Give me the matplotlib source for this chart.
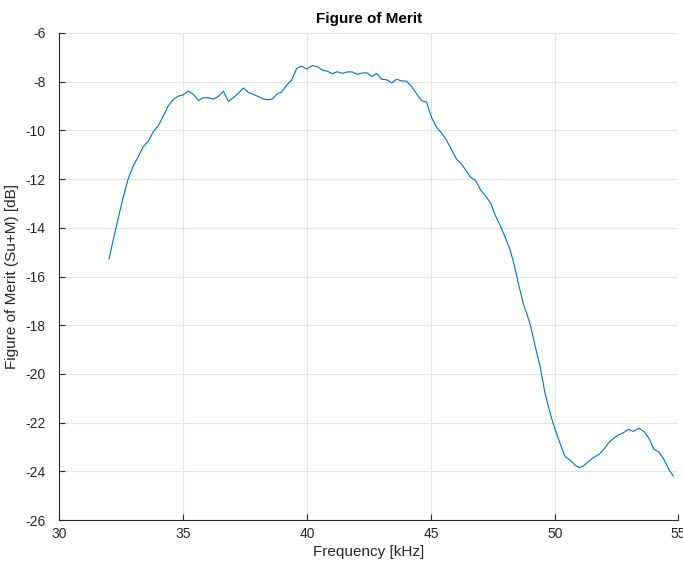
import numpy as np
import matplotlib
matplotlib.use("Agg")
import matplotlib.pyplot as plt

plt.rcParams['font.family'] = ['Liberation Sans', 'DejaVu Sans']
plt.rcParams['axes.unicode_minus'] = False

# Frecuencia [kHz] y figura de mérito [dB]
freq_khz = [
    32.00, 32.17, 32.37, 32.58, 32.78, 32.98, 33.18, 33.38, 33.59, 33.79,
    33.99, 34.19, 34.39, 34.60, 34.80, 34.98, 35.20, 35.40, 35.61, 35.81,
    36.01, 36.21, 36.41, 36.62, 36.82, 37.02, 37.22, 37.42, 37.63, 37.83,
    38.03, 38.23, 38.43, 38.60, 38.77, 38.97, 39.18, 39.38, 39.58, 39.78,
    39.98, 40.21, 40.41, 40.61, 40.82, 41.02, 41.22, 41.42, 41.62, 41.83,
    42.03, 42.23, 42.43, 42.61, 42.81, 43.01, 43.21, 43.42, 43.62, 43.82,
    44.02, 44.22, 44.43, 44.63, 44.83, 44.92, 45.05, 45.23, 45.44, 45.64,
    45.84, 46.04, 46.24, 46.45, 46.61, 46.81, 47.01, 47.21, 47.42, 47.59,
    47.79, 47.99, 48.20, 48.36, 48.53, 48.73, 49.00, 49.20, 49.41, 49.61,
    49.80, 49.99, 50.19, 50.42, 50.62, 50.82, 50.99, 51.16, 51.36, 51.56,
    51.80, 51.96, 52.16, 52.37, 52.57, 52.77, 52.97, 53.17, 53.40, 53.61,
    53.81, 54.01, 54.21, 54.41, 54.61, 54.79,
]
merit_db = [
    -15.28, -14.50, -13.61, -12.72, -11.97, -11.46, -11.08, -10.67, -10.44, -10.05,
    -9.81, -9.41, -9.00, -8.72, -8.59, -8.55, -8.38, -8.51, -8.77, -8.66,
    -8.66, -8.72, -8.61, -8.39, -8.81, -8.66, -8.48, -8.26, -8.44, -8.52,
    -8.61, -8.71, -8.74, -8.71, -8.52, -8.42, -8.14, -7.93, -7.45, -7.36,
    -7.48, -7.34, -7.38, -7.52, -7.57, -7.67, -7.59, -7.66, -7.60, -7.60,
    -7.70, -7.64, -7.64, -7.79, -7.66, -7.90, -7.92, -8.05, -7.90, -7.97,
    -7.98, -8.20, -8.51, -8.78, -8.84, -9.16, -9.52, -9.87, -10.12, -10.42,
    -10.80, -11.19, -11.38, -11.70, -11.93, -12.06, -12.45, -12.69, -12.99, -13.47,
    -13.89, -14.36, -14.91, -15.50, -16.28, -17.10, -17.92, -18.81, -19.70, -20.80,
    -21.55, -22.20, -22.78, -23.40, -23.54, -23.74, -23.85, -23.78, -23.60, -23.44,
    -23.30, -23.13, -22.85, -22.65, -22.51, -22.42, -22.28, -22.36, -22.23, -22.37,
    -22.65, -23.10, -23.21, -23.51, -23.92, -24.19,
]

x_ticks = [30, 35, 40, 45, 50, 55]
y_ticks = [-26, -24, -22, -20, -18, -16, -14, -12, -10, -8, -6]

fig = plt.figure(figsize=(6.83, 5.62), dpi=100)
ax = fig.add_axes([0.0871, 0.0747, 0.9063, 0.8666])

ax.plot(freq_khz, merit_db, color='#0072BD', linewidth=0.8)

ax.set_xlim(30, 55)
ax.set_ylim(-26, -6)
ax.set_xticks(x_ticks)
ax.set_yticks(y_ticks)

# estilo tipo MATLAB: sin caja, rejilla gris clara
ax.grid(True, color='#e3e3e3', linewidth=0.8)
ax.set_axisbelow(True)
for lado in ['top', 'right']:
    ax.spines[lado].set_visible(False)
for lado in ['left', 'bottom']:
    ax.spines[lado].set_color('#262626')
    ax.spines[lado].set_linewidth(0.8)
ax.tick_params(direction='in', length=4.5, width=0.8, color='#262626',
               labelcolor='#262626', labelsize=10)
ax.tick_params(axis='y', pad=10)
ax.tick_params(axis='x', pad=5)

ax.set_title('Figure of Merit', fontsize=11, fontweight='bold', pad=7)
ax.set_xlabel('Frequency [kHz]', fontsize=11, color='#262626')
ax.set_ylabel('Figure of Merit (Su+M) [dB]', fontsize=11, color='#262626')
ax.xaxis.set_label_coords(0.5, -0.051)
ax.yaxis.set_label_coords(-0.066, 0.5)

fig.savefig('out.png', dpi=100)
